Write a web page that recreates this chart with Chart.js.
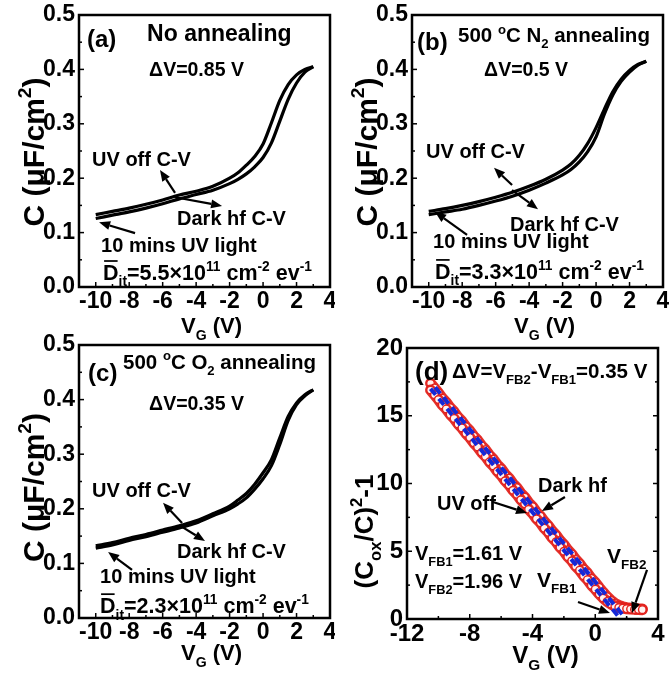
<!DOCTYPE html>
<html><head><meta charset="utf-8">
<script src="https://cdn.jsdelivr.net/npm/chart.js@4.4.0/dist/chart.umd.min.js"></script>
<style>
html,body{margin:0;padding:0;background:#fff;}
#wrap{position:relative;width:669px;height:677px;overflow:hidden;background:#fff;}
canvas{position:absolute;}
</style></head><body>
<div id="wrap">
<canvas id="ca" width="335" height="345" style="left:0;top:0"></canvas>
<canvas id="cb" width="334" height="345" style="left:335px;top:0"></canvas>
<canvas id="cc" width="335" height="347" style="left:0;top:330px"></canvas>
<canvas id="cd" width="334" height="347" style="left:335px;top:330px"></canvas>
</div>
<script>
// ---------------- DATA ----------------
const vGrid = [-10,-9,-8,-7,-6,-5,-4,-3,-2,-1.5,-1,-0.5,0,0.5,1,1.5,2,2.5,3];
// (a) No annealing
const aUvOff = [0.133,0.139,0.145,0.152,0.160,0.169,0.176,0.185,0.200,0.210,0.224,0.240,0.263,0.302,0.343,0.372,0.390,0.400,0.405];
const aDark  = [0.126,0.132,0.138,0.145,0.153,0.162,0.170,0.178,0.190,0.198,0.208,0.221,0.238,0.265,0.305,0.345,0.375,0.395,0.405];
// (b) 500 C N2 annealing
const bUvOff = [0.139,0.144,0.150,0.157,0.165,0.174,0.185,0.198,0.215,0.226,0.242,0.264,0.293,0.327,0.359,0.382,0.398,0.409,0.415];
const bDark  = [0.133,0.138,0.143,0.150,0.158,0.167,0.178,0.191,0.206,0.216,0.230,0.249,0.276,0.318,0.353,0.378,0.395,0.408,0.415];
// (c) 500 C O2 annealing
const cUvOff = [0.132,0.138,0.146,0.153,0.161,0.169,0.178,0.191,0.205,0.216,0.228,0.245,0.266,0.290,0.330,0.369,0.394,0.409,0.418];
const cDark  = [0.128,0.134,0.142,0.149,0.157,0.165,0.174,0.187,0.200,0.209,0.220,0.236,0.255,0.279,0.318,0.362,0.391,0.407,0.418];
// (d) (Cox/C)^2-1 vs VG
const dVg = [-10.5,-10.25,-10,-9.75,-9.5,-9.25,-9,-8.75,-8.5,-8.25,-8,-7.75,-7.5,-7.25,-7,-6.75,-6.5,-6.25,-6,-5.75,-5.5,-5.25,-5,-4.75,-4.5,-4.25,-4,-3.75,-3.5,-3.25,-3,-2.75,-2.5,-2.25,-2,-1.75,-1.5,-1.25,-1,-0.75,-0.5,-0.25,0,0.25,0.5,0.75,1,1.25,1.5,1.75,2,2.25,2.5,2.75,3];
const dUvOff = [16.9,16.55,16.2,15.8,15.5,15.1,14.8,14.4,14.1,13.7,13.4,13.0,12.7,12.3,12.0,11.6,11.3,10.9,10.6,10.2,9.9,9.5,9.2,8.8,8.5,8.1,7.8,7.4,7.1,6.7,6.4,6.0,5.7,5.3,5.0,4.6,4.3,3.9,3.6,3.2,2.9,2.5,2.2,1.85,1.55,1.3,1.1,0.95,0.85,0.8,0.76,0.73,0.71,0.7,0.69];
const dDark  = [17.4,17.05,16.7,16.3,16.0,15.6,15.3,14.9,14.6,14.2,13.9,13.5,13.2,12.8,12.5,12.1,11.8,11.4,11.1,10.7,10.4,10.0,9.7,9.3,9.0,8.6,8.3,7.9,7.6,7.2,6.9,6.5,6.2,5.8,5.5,5.1,4.8,4.4,4.1,3.7,3.4,3.0,2.7,2.33,1.98,1.65,1.38,1.15,1.0,0.9,0.84,0.8,0.77,0.75,0.74];
const fit1V = [-10.5, 1.61]; const fit1Y = [17.0, 0];
const fit2V = [-10.2, 1.96]; const fit2Y = [17.1, 0];
// ticks
const xTicksCV = [-10,-8,-6,-4,-2,0,2,4];
const yTicksCV = [0,0.1,0.2,0.3,0.4,0.5];
const xTicksD = [-12,-8,-4,0,4];
const yTicksD = [0,5,10,15,20];

// ---------------- HELPERS ----------------
const FAM = '"Liberation Sans", Arial, Helvetica, sans-serif';
const bf = s => `bold ${s}px ${FAM}`;
function pts(xs, ys){ return xs.map((x,i)=>({x:x,y:ys[i]})); }

function drawRich(ctx, segs, x, y, size, align){
  const small = size*0.64;
  const parts = [];
  let w = 0;
  for (const s of segs){
    const t = s[0], k = s[1]||'';
    const sz = (k==='sub'||k==='sup') ? small : size;
    ctx.font = bf(sz);
    const tw = ctx.measureText(t).width;
    parts.push({t,k,sz,tw}); w += tw;
  }
  let cx = align==='center' ? x - w/2 : x;
  ctx.textAlign = 'left'; ctx.textBaseline = 'alphabetic';
  for (const p of parts){
    ctx.font = bf(p.sz);
    let dy = 0;
    if (p.k==='sub') dy = size*0.30;
    if (p.k==='sup') dy = -size*0.42;
    ctx.fillText(p.t, cx, y+dy);
    if (p.k==='bar') ctx.fillRect(cx+1, y - size*0.92, p.tw-2, Math.max(1.6, size*0.08));
    cx += p.tw;
  }
}
function arrow(ctx, x1,y1,x2,y2){
  const ang = Math.atan2(y2-y1, x2-x1);
  const hl = 11, hw = 4.5;
  const bx = x2 - hl*Math.cos(ang), by = y2 - hl*Math.sin(ang);
  ctx.beginPath(); ctx.moveTo(x1,y1); ctx.lineTo(bx,by);
  ctx.lineWidth = 2.2; ctx.strokeStyle = '#000'; ctx.stroke();
  ctx.beginPath();
  ctx.moveTo(x2,y2);
  ctx.lineTo(bx + hw*Math.sin(ang), by - hw*Math.cos(ang));
  ctx.lineTo(bx - hw*Math.sin(ang), by + hw*Math.cos(ang));
  ctx.closePath(); ctx.fillStyle='#000'; ctx.fill();
}

function makeDeco(cfg){
  return {
    id: 'deco',
    afterDraw(chart){
      const ctx = chart.ctx, a = chart.chartArea, sx = chart.scales.x, sy = chart.scales.y;
      ctx.save();
      ctx.fillStyle = '#000'; ctx.strokeStyle = '#000';
      ctx.lineWidth = 1.5;
      const tk = (vals, len, axis, sides) => {
        for (const v of vals){
          if (axis==='x'){
            const p = sx.getPixelForValue(v);
            if (p <= a.left+1 || p >= a.right-1) continue;
            if (sides.includes('b')){ ctx.beginPath(); ctx.moveTo(p,a.bottom); ctx.lineTo(p,a.bottom-len); ctx.stroke(); }
            if (sides.includes('t')){ ctx.beginPath(); ctx.moveTo(p,a.top); ctx.lineTo(p,a.top+len); ctx.stroke(); }
          } else {
            const p = sy.getPixelForValue(v);
            if (p <= a.top+1 || p >= a.bottom-1) continue;
            if (sides.includes('l')){ ctx.beginPath(); ctx.moveTo(a.left,p); ctx.lineTo(a.left+len,p); ctx.stroke(); }
            if (sides.includes('r')){ ctx.beginPath(); ctx.moveTo(a.right,p); ctx.lineTo(a.right-len,p); ctx.stroke(); }
          }
        }
      };
      const xt = cfg.xTicks, yt = cfg.yTicks;
      const xm = [], ym = [];
      for (let i=0;i<xt.length-1;i++) xm.push((xt[i]+xt[i+1])/2);
      for (let i=0;i<yt.length-1;i++) ym.push((yt[i]+yt[i+1])/2);
      tk(xt, 5, 'x', cfg.tickSides);
      tk(xm, 3, 'x', cfg.tickSides);
      tk(yt, 5, 'y', cfg.tickSides);
      tk(ym, 3, 'y', cfg.tickSides);
      ctx.lineWidth = 2.5;
      ctx.strokeRect(a.left, a.top, a.right-a.left, a.bottom-a.top);
      for (const t of cfg.texts){
        drawRich(ctx, t.segs, sx.getPixelForValue(t.x), sy.getPixelForValue(t.y), t.size, 'left');
      }
      for (const r of cfg.arrows){
        arrow(ctx, sx.getPixelForValue(r[0]), sy.getPixelForValue(r[1]), sx.getPixelForValue(r[2]), sy.getPixelForValue(r[3]));
      }
      const xt2 = cfg.xTitle;
      drawRich(ctx, xt2.segs, (a.left+a.right)/2 + xt2.dx, a.bottom + xt2.dy, xt2.size, 'center');
      const yt2 = cfg.yTitle;
      ctx.save();
      ctx.translate(a.left + yt2.dx, (a.top+a.bottom)/2 + yt2.dy);
      ctx.rotate(-Math.PI/2);
      drawRich(ctx, yt2.segs, 0, 0, yt2.size, 'center');
      ctx.restore();
      ctx.restore();
    }
  };
}

function makeChart(id, datasets, sc, cfg){
  const el = document.getElementById(id);
  return new Chart(el, {
    type: 'line',
    data: { datasets: datasets },
    options: {
      responsive: false, animation: false, devicePixelRatio: 1,
      layout: { padding: { left: 0, top: sc.top, right: sc.right, bottom: 0 } },
      plugins: { legend: { display: false }, tooltip: { enabled: false } },
      scales: {
        x: {
          type: 'linear', min: sc.xmin, max: sc.xmax,
          grid: { display: false, drawTicks: false }, border: { display: false },
          ticks: { font: { family: FAM, size: sc.fs, weight: 'bold' }, color: '#000', padding: sc.xpad, maxRotation: 0, autoSkip: false },
          afterBuildTicks: s => { s.ticks = sc.xTicks.map(v => ({ value: v })); },
          afterFit: s => { s.height = sc.xh; s.paddingLeft = 0; s.paddingRight = 0; }
        },
        y: {
          type: 'linear', min: sc.ymin, max: sc.ymax,
          grid: { display: false, drawTicks: false }, border: { display: false },
          ticks: { font: { family: FAM, size: sc.fs, weight: 'bold' }, color: '#000', padding: sc.ypad,
                   callback: sc.yfmt },
          afterBuildTicks: s => { s.ticks = sc.yTicks.map(v => ({ value: v })); },
          afterFit: s => { s.width = sc.yw; s.paddingTop = 0; s.paddingBottom = 0; }
        }
      }
    },
    plugins: [makeDeco(cfg)]
  });
}

function cvSets(uv, dark){
  const base = { borderColor: '#000', borderWidth: 3.2, pointRadius: 0, fill: false, cubicInterpolationMode: 'monotone' };
  return [
    Object.assign({ label: 'UV off C-V', data: pts(vGrid, uv) }, base),
    Object.assign({ label: 'Dark hf C-V', data: pts(vGrid, dark) }, base)
  ];
}
const yTitleCV = (dy) => ({ segs: [['C (\u03bcF/cm'],['2','sup'],[')']], size: 30, dx: -35, dy: dy });
const xTitleCV = (dy) => ({ segs: [['V'],['G','sub'],[' (V)']], size: 22, dx: 7, dy: dy });
const dit = (v) => [['D','bar'],['it','sub'],['='+v+'\u00d710'],['11','sup'],[' cm'],['-2','sup'],[' ev'],['-1','sup']];
const fmtCV = v => v.toFixed(1);

// (a)
makeChart('ca', cvSets(aUvOff, aDark),
  { top: 15, right: 5, xh: 58, yw: 79, xmin: -11, xmax: 4, ymin: 0, ymax: 0.5, xTicks: xTicksCV, yTicks: yTicksCV, fs: 23, xpad: 1, ypad: 4, yfmt: fmtCV },
  { xTicks: xTicksCV, yTicks: yTicksCV, tickSides: 'lb',
    texts: [
      { segs: [['(a)']], x: -10.52, y: 0.441, size: 24 },
      { segs: [['No annealing']], x: -6.93, y: 0.452, size: 23 },
      { segs: [['\u0394V=0.85 V']], x: -6.81, y: 0.388, size: 19.5 },
      { segs: [['UV off C-V']], x: -10.22, y: 0.222, size: 20 },
      { segs: [['Dark hf C-V']], x: -5.14, y: 0.114, size: 20 },
      { segs: [['10 mins UV light']], x: -9.68, y: 0.064, size: 20 },
      { segs: dit('5.5'), x: -9.56, y: 0.013, size: 21.5 }
    ],
    arrows: [[-5.26,0.173,-6.16,0.215],[-5.26,0.165,-2.45,0.149],[-7.65,0.099,-9.8,0.119]],
    xTitle: xTitleCV(46), yTitle: yTitleCV(1) });

// (b)
makeChart('cb', cvSets(bUvOff, bDark),
  { top: 15, right: 6, xh: 58, yw: 77, xmin: -11, xmax: 4, ymin: 0, ymax: 0.5, xTicks: xTicksCV, yTicks: yTicksCV, fs: 23, xpad: 1, ypad: 4, yfmt: fmtCV },
  { xTicks: xTicksCV, yTicks: yTicksCV, tickSides: 'lb',
    texts: [
      { segs: [['(b)']], x: -10.7, y: 0.436, size: 24 },
      { segs: [['500 '],['o','sup'],['C N'],['2','sub'],[' annealing']], x: -8.25, y: 0.450, size: 20.5 },
      { segs: [['\u0394V=0.5 V']], x: -6.69, y: 0.388, size: 19.5 },
      { segs: [['UV off C-V']], x: -10.16, y: 0.237, size: 20 },
      { segs: [['Dark hf C-V']], x: -5.14, y: 0.103, size: 20 },
      { segs: [['10 mins UV light']], x: -9.74, y: 0.072, size: 20 },
      { segs: dit('3.3'), x: -9.62, y: 0.015, size: 21.5 }
    ],
    arrows: [[-5.02,0.1875,-6.1,0.219],[-5.02,0.178,-3.47,0.143],[-7.71,0.096,-9.62,0.138]],
    xTitle: xTitleCV(46), yTitle: yTitleCV(1) });

// (c)
makeChart('cc', cvSets(cUvOff, cDark),
  { top: 15, right: 5, xh: 59, yw: 79, xmin: -11, xmax: 4, ymin: 0, ymax: 0.5, xTicks: xTicksCV, yTicks: yTicksCV, fs: 23, xpad: 1, ypad: 4, yfmt: fmtCV },
  { xTicks: xTicksCV, yTicks: yTicksCV, tickSides: 'lb',
    texts: [
      { segs: [['(c)']], x: -10.46, y: 0.434, size: 24 },
      { segs: [['500 '],['o','sup'],['C O'],['2','sub'],[' annealing']], x: -8.37, y: 0.456, size: 20.5 },
      { segs: [['\u0394V=0.35 V']], x: -6.81, y: 0.381, size: 19.5 },
      { segs: [['UV off C-V']], x: -10.22, y: 0.222, size: 20 },
      { segs: [['Dark hf C-V']], x: -5.14, y: 0.110, size: 20 },
      { segs: [['10 mins UV light']], x: -9.74, y: 0.064, size: 20 },
      { segs: dit('2.3'), x: -9.74, y: 0.009, size: 21.5 }
    ],
    arrows: [[-4.84,0.174,-5.98,0.211],[-4.84,0.167,-3.47,0.141],[-7.83,0.088,-9.26,0.121]],
    xTitle: xTitleCV(42), yTitle: yTitleCV(6) });

// (d)
const redSeries = (label, ys) => ({
  label: label, data: pts(dVg, ys), showLine: true, borderColor: 'rgba(225,30,25,0.92)', borderWidth: 11,
  borderCapStyle: 'round', borderJoinStyle: 'round', fill: false,
  pointStyle: 'circle', pointRadius: 3.8, pointBorderWidth: 1.4, pointBorderColor: '#e3211c', pointBackgroundColor: '#fff2f0', order: 1
});
makeChart('cd', [
    { label: 'Dark hf fit', data: pts(fit2V, fit2Y), borderColor: '#1428d8', borderWidth: 4, borderDash: [8,5], pointRadius: 0, fill: false, order: 0 },
    { label: 'UV off fit', data: pts(fit1V, fit1Y), borderColor: '#1428d8', borderWidth: 4, borderDash: [8,5], pointRadius: 0, fill: false, order: 0 },
    redSeries('UV off', dUvOff),
    redSeries('Dark hf', dDark)
  ],
  { top: 18, right: 11, xh: 58, yw: 72, xmin: -12, xmax: 4, ymin: 0, ymax: 20, xTicks: xTicksD, yTicks: yTicksD, fs: 24, xpad: 1, ypad: 4, yfmt: v => String(v) },
  { xTicks: xTicksD, yTicks: yTicksD, tickSides: 'lbr',
    texts: [
      { segs: [['(d)']], x: -11.49, y: 17.64, size: 26 },
      { segs: [['\u0394V=V'],['FB2','sub'],['-V'],['FB1','sub'],['=0.35 V']], x: -9.13, y: 17.79, size: 20.5 },
      { segs: [['Dark hf']], x: -3.65, y: 9.37, size: 20 },
      { segs: [['UV off']], x: -10.09, y: 8.04, size: 20 },
      { segs: [['V'],['FB1','sub'],['=1.61 V']], x: -11.49, y: 4.35, size: 20 },
      { segs: [['V'],['FB2','sub'],['=1.96 V']], x: -11.49, y: 2.29, size: 20 },
      { segs: [['V'],['FB1','sub']], x: -3.71, y: 2.36, size: 21 },
      { segs: [['V'],['FB2','sub']], x: 0.75, y: 4.13, size: 21 }
    ],
    arrows: [[-1.93,9.0,-3.4,7.97],[-6.52,8.63,-4.35,7.82],[-1.1,1.25,0.94,0.44],[3.3,3.62,2.34,0.44]],
    xTitle: { segs: [['V'],['G','sub'],[' (V)']], size: 24, dx: 13, dy: 44 },
    yTitle: { segs: [['(C'],['ox','sub'],['/C)'],['2','sup'],['-1']], size: 26, dx: -34, dy: 48 } });
</script>
</body></html>
